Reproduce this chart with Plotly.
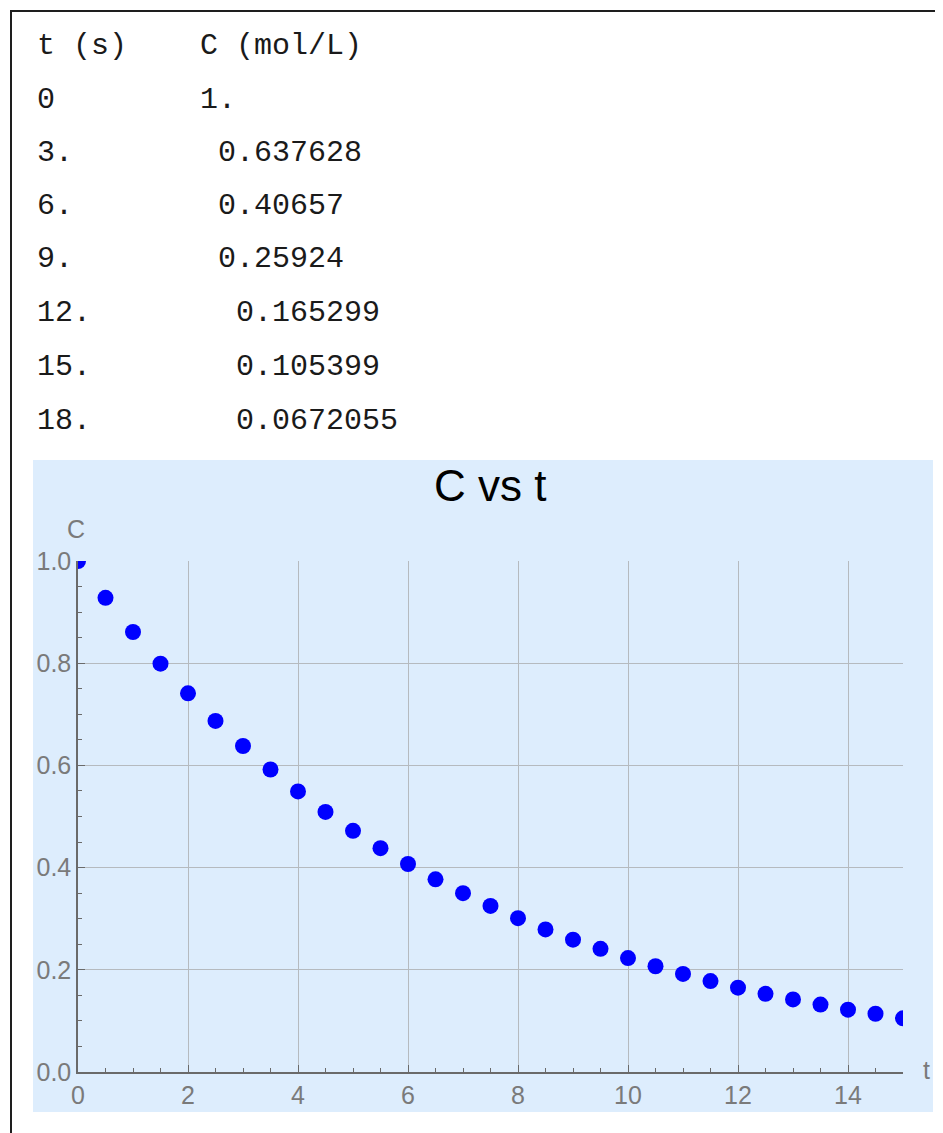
import plotly.graph_objects as go

# ---- data ----
t_values = [0, 0.5, 1, 1.5, 2, 2.5, 3, 3.5, 4, 4.5, 5, 5.5, 6, 6.5, 7, 7.5,
            8, 8.5, 9, 9.5, 10, 10.5, 11, 11.5, 12, 12.5, 13, 13.5, 14, 14.5, 15]
c_values = [1.0, 0.928, 0.861, 0.799, 0.741, 0.687, 0.638, 0.592, 0.549, 0.509,
            0.472, 0.438, 0.407, 0.377, 0.350, 0.325, 0.301, 0.279, 0.259, 0.241,
            0.223, 0.207, 0.192, 0.178, 0.165, 0.153, 0.142, 0.132, 0.122, 0.114, 0.105]

table_header = ["t (s)", "C (mol/L)"]
table_t = ["0", "3.", "6.", "9.", "12.", "15.", "18."]
table_c = ["1.", "0.637628", "0.40657", "0.25924", "0.165299", "0.105399", "0.0672055"]

x_ticks = [0, 2, 4, 6, 8, 10, 12, 14]
y_ticks = [0.0, 0.2, 0.4, 0.6, 0.8, 1.0]

# ---- layout geometry (pixels, in page coordinates; the page body adds an 8px margin) ----
OFF = 8
PAGE_W, PAGE_H = 943, 1133
W, H = PAGE_W - OFF, PAGE_H - OFF
PLOT_L, PLOT_R, PLOT_T, PLOT_B = 78, 903, 561, 1072   # page pixels
ML, MR, MT, MB = PLOT_L - OFF, W - (PLOT_R - OFF), PLOT_T - OFF, H - (PLOT_B - OFF)
PW, PH = W - ML - MR, H - MT - MB


def px(x):
    return (x - OFF - ML) / PW


def py(y):
    return (H - MB - (y - OFF)) / PH


BLUE_BG = "rgb(221,237,253)"
AXIS = "#6a6a6a"
GRID = "#b5babf"
TICKFONT = dict(family="Liberation Sans, Arial, sans-serif", size=25, color="#7a7a7a")
MONO = dict(family="Courier New, Liberation Mono, monospace", size=30, color="#1a1a1a")

fig = go.Figure()
fig.add_trace(go.Scatter(
    x=t_values, y=c_values, mode="markers",
    marker=dict(color="#0000ff", size=16, line=dict(width=0)),
    cliponaxis=True, showlegend=False,
))

annotations = []
# table
row_y = [46, 100, 153, 206, 259, 313, 367, 421]
c_indent = [198, 216, 216, 216, 234, 234, 234]
annotations.append(dict(x=px(35), y=py(row_y[0]), text=table_header[0]))
annotations.append(dict(x=px(198), y=py(row_y[0]), text=table_header[1]))
for i, (tt, cc) in enumerate(zip(table_t, table_c)):
    annotations.append(dict(x=px(35), y=py(row_y[i + 1]), text=tt))
    annotations.append(dict(x=px(c_indent[i]), y=py(row_y[i + 1]), text=cc))
for a in annotations:
    a.update(xref="paper", yref="paper", xanchor="left", yanchor="middle",
             showarrow=False, font=MONO)

# title & axis labels
annotations.append(dict(x=px(490), y=py(485), xref="paper", yref="paper",
                        text="C vs t", showarrow=False, xanchor="center", yanchor="middle",
                        font=dict(family="Liberation Sans, Arial, sans-serif", size=44, color="#000000")))
annotations.append(dict(x=px(76), y=py(529), xref="paper", yref="paper",
                        text="C", showarrow=False, xanchor="center", yanchor="middle",
                        font=TICKFONT))
annotations.append(dict(x=px(921), y=py(1070), xref="paper", yref="paper",
                        text="t", showarrow=False, xanchor="left", yanchor="middle",
                        font=TICKFONT))

shapes = [
    dict(type="rect", xref="paper", yref="paper", x0=px(33), x1=px(933), y0=py(460), y1=py(1112),
         fillcolor=BLUE_BG, line=dict(width=0), layer="below"),
    dict(type="line", xref="paper", yref="paper", x0=px(10), x1=px(960), y0=py(11), y1=py(11),
         line=dict(color="#1e1e1e", width=2)),
    dict(type="line", xref="paper", yref="paper", x0=px(11), x1=px(11), y0=py(10), y1=py(1150),
         line=dict(color="#1e1e1e", width=2)),
]

fig.update_layout(
    width=W, height=H, autosize=False,
    margin=dict(l=ML, r=MR, t=MT, b=MB, pad=0),
    paper_bgcolor="white", plot_bgcolor=BLUE_BG,
    annotations=annotations, shapes=shapes,
    showlegend=False,
)
fig.update_xaxes(
    range=[0, 15], tickvals=x_ticks, ticktext=[str(v) for v in x_ticks],
    showgrid=True, gridcolor=GRID, gridwidth=1, zeroline=False,
    showline=True, linecolor=AXIS, linewidth=1.5,
    ticks="inside", ticklen=7, tickcolor=AXIS, tickwidth=1.2,
    tickfont=TICKFONT,
    minor=dict(dtick=0.5, tick0=0, ticks="inside", ticklen=4, tickcolor=AXIS, tickwidth=1.2, showgrid=False),
)
fig.update_yaxes(
    range=[0, 1], tickvals=y_ticks, ticktext=[f"{v:.1f}" for v in y_ticks],
    showgrid=True, gridcolor=GRID, gridwidth=1, zeroline=False,
    showline=True, linecolor=AXIS, linewidth=1.5,
    ticks="inside", ticklen=7, tickcolor=AXIS, tickwidth=1.2,
    tickfont=TICKFONT,
    minor=dict(dtick=0.05, tick0=0, ticks="inside", ticklen=4, tickcolor=AXIS, tickwidth=1.2, showgrid=False),
)

fig.write_html("out.html")
